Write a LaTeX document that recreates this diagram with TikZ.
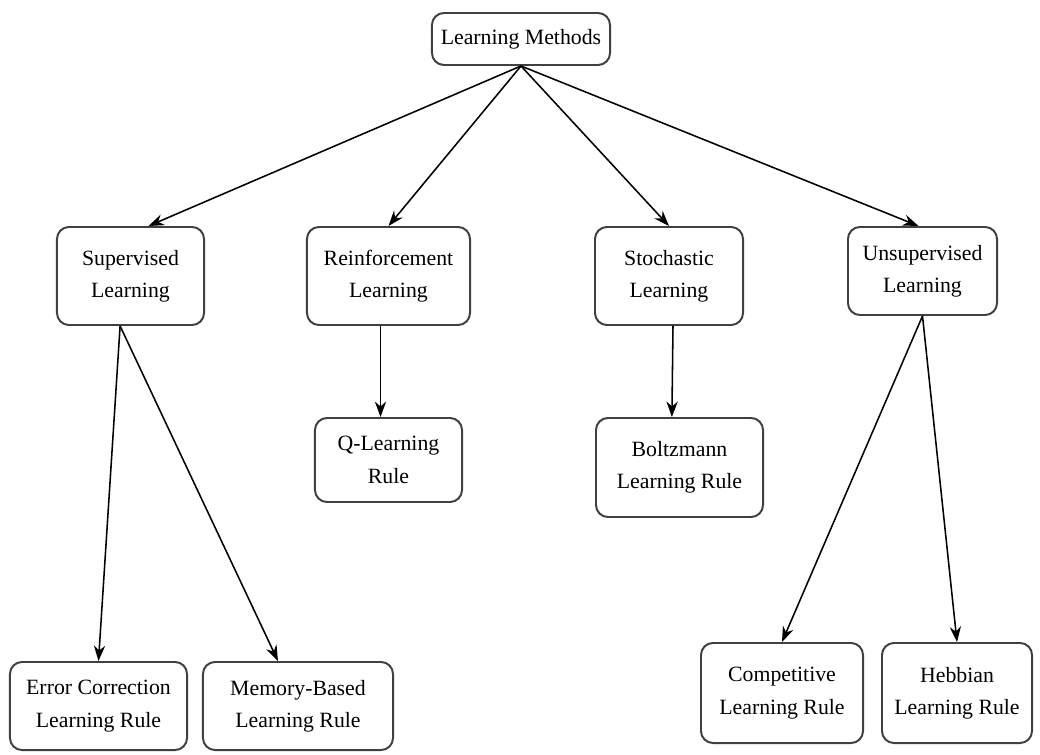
\documentclass[tikz,border=0pt]{standalone}
\usepackage{fontspec}
\setmainfont{Liberation Serif}
\usetikzlibrary{arrows.meta}

\begin{document}
\begin{tikzpicture}[x=0.025cm, y=-0.025cm,
		box/.style={draw=black!75, line width=1.4pt, rounded corners=0.3cm, fill=white, align=center, inner sep=0pt, font=\fontsize{15.5}{23}\selectfont},
		link/.style={-{Stealth[length=11pt,width=8pt]}, line width=1.1pt}]
		\useasboundingbox (0,0) rectangle (1040,755);
		
		\node[box, minimum width=4.45cm, minimum height=1.3cm] (lm) at (521,39) {Learning Methods};
		
		\node[box, minimum width=3.675cm, minimum height=2.45cm] (sup) at (130.5,276) {Supervised\\Learning};
		\node[box, minimum width=4.075cm, minimum height=2.45cm] (rei) at (388.5,276) {Reinforcement\\Learning};
		\node[box, minimum width=3.7cm, minimum height=2.45cm] (sto) at (669,276) {Stochastic\\Learning};
		\node[box, minimum width=3.725cm, minimum height=2.2cm] (uns) at (922.5,271) {Unsupervised\\Learning};
		
		\node[box, minimum width=3.675cm, minimum height=2.1cm] (qlr) at (388.5,460) {Q-Learning\\Rule};
		\node[box, minimum width=4.175cm, minimum height=2.475cm] (bol) at (679.5,467.5) {Boltzmann\\Learning Rule};
		
		\node[box, minimum width=4.425cm, minimum height=2.2cm] (err) at (98.5,706) {Error Correction\\Learning Rule};
		\node[box, minimum width=4.75cm, minimum height=2.2cm] (mem) at (298,706) {Memory-Based\\Learning Rule};
		\node[box, minimum width=4.05cm, minimum height=2.5cm] (com) at (782,693) {Competitive\\Learning Rule};
		\node[box, minimum width=3.75cm, minimum height=2.5cm] (heb) at (957,693) {Hebbian\\Learning Rule};
		
		\draw[link] (lm.south) -- ([xshift=0.45cm]sup.north);
		\draw[link] (lm.south) -- (rei.north);
		\draw[link] (lm.south) -- (sto.north);
		\draw[link] (lm.south) -- ([xshift=-0.1cm]uns.north);
		
		\draw[link] ([xshift=-0.26cm]sup.south) -- (err.north);
		\draw[link] ([xshift=-0.26cm]sup.south) -- ([xshift=-0.5cm]mem.north);
		\draw[link] ([xshift=-0.2cm]rei.south) -- ([xshift=-0.2cm]qlr.north);
		\draw[link] ([xshift=0.1cm]sto.south) -- ([xshift=-0.19cm]bol.north);
		\draw[link] (uns.south) -- (com.north);
		\draw[link] (uns.south) -- (heb.north);
		
	\end{tikzpicture}
\end{document}
